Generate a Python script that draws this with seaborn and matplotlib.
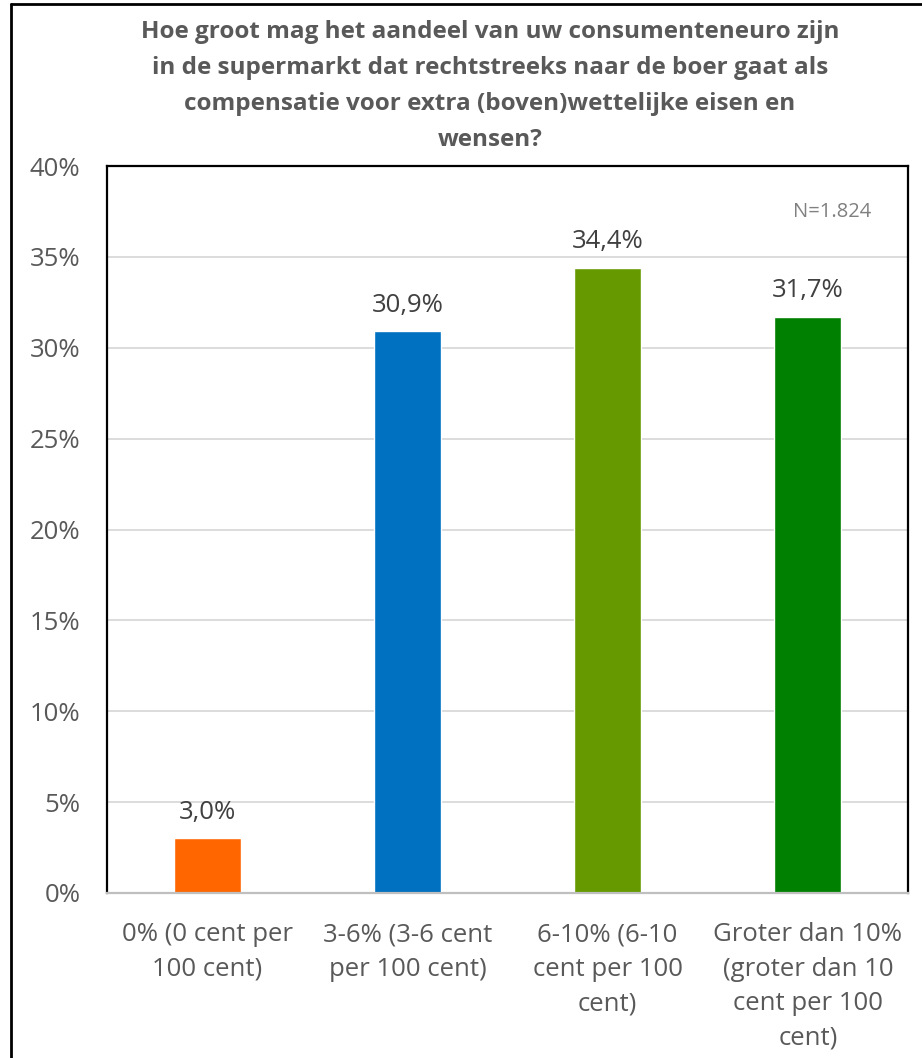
import matplotlib
matplotlib.use("Agg")
import matplotlib.pyplot as plt
import seaborn as sns
import pandas as pd
from matplotlib.lines import Line2D
from matplotlib.ticker import FuncFormatter

categories = ["0% (0 cent per\n100 cent)", "3-6% (3-6 cent\nper 100 cent)",
              "6-10% (6-10\ncent per 100\ncent)", "Groter dan 10%\n(groter dan 10\ncent per 100\ncent)"]
values = [3.0, 30.9, 34.4, 31.7]
colors = ["#FF6600", "#0070C0", "#669900", "#008000"]
yticks = [0, 5, 10, 15, 20, 25, 30, 35, 40]
title = ("Hoe groot mag het aandeel van uw consumenteneuro zijn\n"
         "in de supermarkt dat rechtstreeks naar de boer gaat als\n"
         "compensatie voor extra (boven)wettelijke eisen en\n"
         "wensen?")
note = "N=1.824"

sns.set_theme(style="white")
plt.rcParams['font.family'] = ['Open Sans', 'DejaVu Sans']

df = pd.DataFrame({"cat": categories, "val": values})

W, H = 922, 1058
fig = plt.figure(figsize=(W/100, H/100), dpi=100)
ax = fig.add_axes([107/W, 1-893/H, (908-107)/W, (893-166)/H])

sns.barplot(data=df, x="cat", y="val", hue="cat", palette=colors, legend=False,
            width=0.335, ax=ax, saturation=1)

ax.set_ylim(0, 40)
ax.set_yticks(yticks)
ax.yaxis.set_major_formatter(FuncFormatter(lambda v, p: f"{int(v)}%"))
ax.set_xlabel("")
ax.set_ylabel("")
ax.grid(axis="y", color="#D9D9D9", linewidth=1.3)
ax.set_axisbelow(True)
for s in ["left", "top", "right"]:
    ax.spines[s].set_visible(True)
    ax.spines[s].set_color("black")
    ax.spines[s].set_linewidth(1.6)
ax.spines["bottom"].set_color("#BFBFBF")
ax.spines["bottom"].set_linewidth(1.6)
ax.tick_params(axis="y", length=0, pad=19, labelsize=18.5, labelcolor="#595959")
ax.tick_params(axis="x", length=0, pad=21, labelsize=18.5, labelcolor="#595959")
for lbl in ax.get_xticklabels():
    lbl.set_linespacing(1.5)

for cont in ax.containers:
    ax.bar_label(cont, labels=[f"{v:.1f}%".replace('.', ',') for v in cont.datavalues],
                 padding=10, fontsize=18.5, color="#404040")

ax.text(0.954, 0.937, note, transform=ax.transAxes, ha="right", va="center",
        fontsize=14.5, color="#808080")

fig.text(490/W, 1-86/H, title, ha="center", va="center", fontsize=17.5,
         fontweight="bold", color="#595959", linespacing=1.66)

# outer chart frame (left and top edges visible)
fig.add_artist(Line2D([11/W, 11/W], [0, 1-4/H], transform=fig.transFigure,
                      color="black", linewidth=2))
fig.add_artist(Line2D([11/W, 1], [1-4/H, 1-4/H], transform=fig.transFigure,
                      color="black", linewidth=2))

fig.savefig("out.png", dpi=100)
